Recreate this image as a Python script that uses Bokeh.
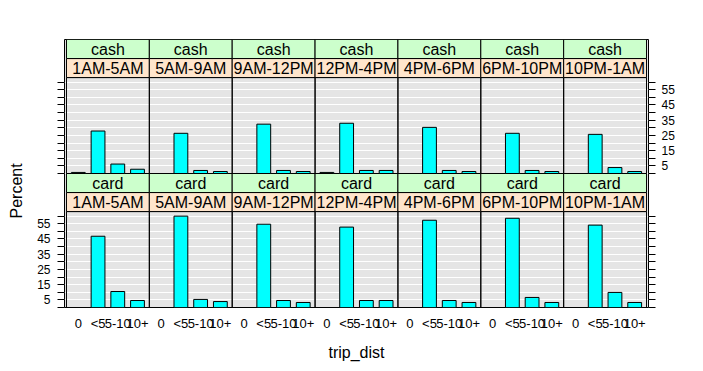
from bokeh.plotting import figure
from bokeh.models import FactorRange, Range1d, LinearAxis, FixedTicker, ColumnDataSource, Title
from bokeh.embed import file_html
from bokeh.resources import INLINE
from bokeh.core.properties import value

# ---- data ----
times = ["1AM-5AM", "5AM-9AM", "9AM-12PM", "12PM-4PM", "4PM-6PM", "6PM-10PM", "10PM-1AM"]
dists = ["0", "<5", "5-10", "10+"]
payments = ["cash", "card"]

cash_pct = [
    [0.7, 27.9, 6.2, 2.8],
    [0.0, 26.4, 2.0, 1.3],
    [0.0, 32.4, 2.0, 1.3],
    [0.7, 33.0, 2.0, 2.0],
    [0.0, 30.3, 2.0, 1.3],
    [0.0, 26.4, 2.0, 1.3],
    [0.0, 25.7, 3.9, 1.3],
]
card_pct = [
    [0.0, 46.8, 10.5, 4.6],
    [0.0, 60.0, 5.3, 3.9],
    [0.0, 54.7, 4.6, 3.3],
    [0.0, 52.8, 4.6, 4.6],
    [0.0, 57.3, 4.6, 3.3],
    [0.0, 58.6, 6.6, 3.3],
    [0.0, 54.1, 9.9, 3.3],
]
y_labels = [5, 15, 25, 35, 45, 55]
y_unlabeled = [0, 10, 20, 30, 40, 50, 60]

# ---- layout constants ----
YMAX = 63.0
STRIP = 12.5
ROW = YMAX + 2 * STRIP
FONT = "Liberation Sans"
GREEN = "#ccffcc"
PEACH = "#ffe5cc"
BAR = "#00ffff"

factors = [(t, d) for t in times for d in dists]
xr = FactorRange(*factors, factor_padding=0, group_padding=0.2,
                 range_padding=0.2, range_padding_units="absolute")

p = figure(x_range=xr, y_range=Range1d(0, 2 * ROW),
           frame_width=584, frame_height=268,
           output_backend="svg", toolbar_location=None,
           min_border_left=63, min_border_right=35, min_border_top=39, min_border_bottom=6,
           background_fill_color="#e5e5e5", border_fill_color="white",
           outline_line_color="black", outline_line_width=1)
p.extra_y_ranges = {"cash": Range1d(-ROW, ROW)}

card_src = ColumnDataSource(dict(x=factors, top=[v for row in card_pct for v in row]))
cash_src = ColumnDataSource(dict(x=factors, top=[v for row in cash_pct for v in row]))

for rng in ("default", "cash"):
    # panel borders
    p.rect(x=times, y=YMAX / 2, width=4.2, height=YMAX, fill_color=None,
           line_color="black", line_width=1, y_range_name=rng)
    # strips
    p.rect(x=times, y=YMAX + STRIP / 2, width=4.2, height=STRIP, fill_color=PEACH,
           line_color="black", line_width=1, y_range_name=rng)
    p.rect(x=times, y=YMAX + 1.5 * STRIP, width=4.2, height=STRIP, fill_color=GREEN,
           line_color="black", line_width=1, y_range_name=rng)
    p.text(x=times, y=YMAX + STRIP / 2, text=times, text_align="center",
           text_baseline="middle", text_font=value(FONT), text_font_size="16px",
           text_color="black", y_range_name=rng)
    pay = "card" if rng == "default" else "cash"
    p.text(x=times, y=YMAX + 1.5 * STRIP, text=[pay] * len(times), text_align="center",
           text_baseline="middle", text_font=value(FONT), text_font_size="16px",
           text_color="black", y_range_name=rng)

p.vbar(x="x", top="top", bottom=0, width=0.7, fill_color=BAR, line_color="black",
       line_width=1, source=card_src)
p.vbar(x="x", top="top", bottom=0, width=0.7, fill_color=BAR, line_color="black",
       line_width=1, source=cash_src, y_range_name="cash")

# grid
p.xgrid.visible = False
p.ygrid.ticker = FixedTicker(ticks=[v for v in range(0, 61, 5)] + [ROW + v for v in range(0, 61, 5)])
p.ygrid.grid_line_color = "white"
p.ygrid.grid_line_width = 1

def style_y(ax):
    ax.major_tick_out = 7
    ax.major_tick_in = 0
    ax.minor_tick_out = 7
    ax.minor_tick_in = 0
    ax.major_tick_line_color = "black"
    ax.minor_tick_line_color = "black"
    ax.axis_line_color = None
    ax.major_label_text_font = FONT
    ax.major_label_text_font_size = "12px"
    ax.major_label_text_color = "black"

yl = p.yaxis[0]
yl.ticker = FixedTicker(ticks=y_labels, minor_ticks=y_unlabeled + [ROW + v for v in range(0, 61, 5)])
style_y(yl)
yl.major_label_standoff = 7

spacer = Title(text=" ", text_font_size="1px", standoff=2)
p.add_layout(spacer, "left")
ylab = Title(text="Percent", align="left", offset=89, vertical_align="bottom",
             text_font=FONT, text_font_size="16px", text_font_style="normal",
             text_color="black", standoff=10)
p.add_layout(ylab, "left")

yr = LinearAxis(y_range_name="cash",
                ticker=FixedTicker(ticks=y_labels,
                                   minor_ticks=y_unlabeled + [-ROW + v for v in range(0, 61, 5)]))
style_y(yr)
yr.major_label_standoff = 6
p.add_layout(yr, "right")

xa = p.xaxis[0]
xa.major_tick_out = 0
xa.major_tick_in = 0
xa.axis_line_color = None
xa.major_label_text_font = FONT
xa.major_label_text_font_size = "13px"
xa.major_label_text_color = "black"
xa.major_label_standoff = 8
xa.group_text_font_size = "0px"
xa.group_text_color = None
xa.separator_line_color = None
xa.axis_label = "trip_dist"
xa.axis_label_text_font = FONT
xa.axis_label_text_font_size = "16px"
xa.axis_label_text_font_style = "normal"
xa.axis_label_text_color = "black"
xa.axis_label_standoff = 10

open("out.html", "w").write(file_html(p, INLINE))
